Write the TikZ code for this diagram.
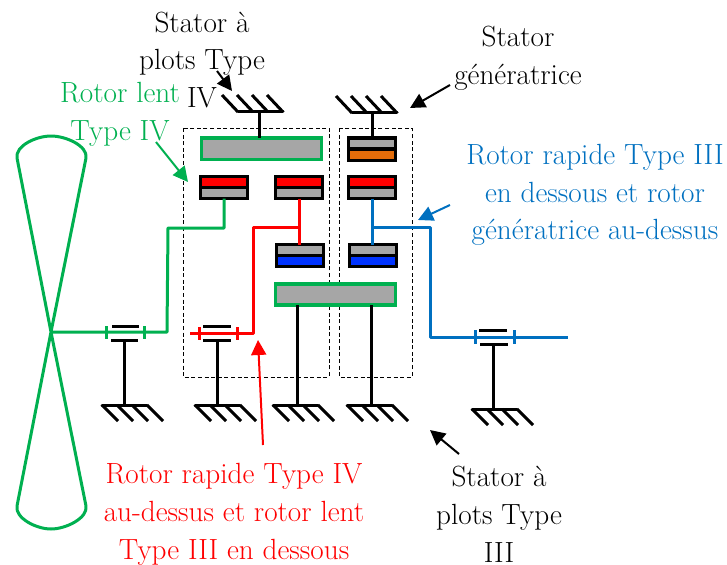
\documentclass[tikz,border=0pt]{standalone}
\usetikzlibrary{arrows.meta}
\definecolor{rotgreen}{HTML}{00B050}
\definecolor{rotblue}{HTML}{0070C0}
\definecolor{rotgrey}{HTML}{A6A6A6}
\definecolor{rotorange}{HTML}{E36C0A}
\definecolor{rotdeep}{HTML}{0033FF}
\newcommand{\gndup}[4]{% name, x, y, x of link : hatch goes up-left
  \coordinate (#1) at (#4,#3);
  \draw[line width=3pt,line cap=round,line join=round] (#2,#3) -- (#2+45,#3);
  \foreach \k in {0,15,30,45} \draw[line width=3pt] (#2+\k,#3) -- (#2+\k-16,#3-17);
}
\newcommand{\gnddown}[4]{% name, x, y, x of link : hatch goes down-right
  \coordinate (#1) at (#4,#3);
  \draw[line width=3pt,line cap=round,line join=round] (#2,#3) -- (#2+45,#3);
  \foreach \k in {0,15,30,45} \draw[line width=3pt] (#2+\k,#3) -- (#2+\k+16,#3+16);
}
\tikzset{
  x=1pt,y=-1pt,
  half/.style={draw=black,line width=3.2pt,minimum width=47pt,minimum height=11pt,inner sep=0pt,outer sep=0pt},
  carrier/.style={draw=rotgreen,fill=rotgrey,line width=3.6pt,inner sep=0pt,outer sep=0pt},
  shaft/.style={line width=3pt},
  colshaft/.style={line width=3pt,line join=round},
  house/.style={draw=black,dash pattern=on 4pt off 2.6pt,line width=0.9pt},
  bar/.style={line width=3pt},
  tick/.style={line width=3pt},
  call/.style={-{Triangle[length=15pt,width=15pt]},line width=2pt},
  lab/.style={font=\fontsize{29.2}{37.8}\selectfont,align=center,inner sep=0pt},
}
\begin{document}
\begin{tikzpicture}
\useasboundingbox (0,0) rectangle (727,564);
% housings
\draw[house] (183,128) rectangle (329,377);
\draw[house] (339,128) rectangle (412,377);
% grounds
\gndup{gA}{238}{112}{259}
\gndup{gB}{352}{113}{372}
\gnddown{gC}{102}{405}{124}
\gnddown{gD}{195}{405}{217}
\gnddown{gE}{273}{405}{297}
\gnddown{gF}{347}{405}{371}
\gnddown{gG}{472}{409}{493}
% blocks
\node[carrier,minimum width=120pt,minimum height=21.5pt] (top) at (261.5,148.8) {};
\node[half,fill=rotgrey] (ga) at (372,143.5) {};
\node[half,fill=rotorange] (gb) at (372,155) {};
\node[half,fill=red] (la) at (224,182) {};
\node[half,fill=rotgrey] (lb) at (224,193) {};
\node[half,fill=red] (ma) at (299,182) {};
\node[half,fill=rotgrey] (mb) at (299,193) {};
\node[half,fill=red] (ra) at (372,182) {};
\node[half,fill=rotgrey] (rb) at (372,193) {};
\node[half,fill=rotgrey] (mc) at (300,250) {};
\node[half,fill=rotdeep] (md) at (300,261) {};
\node[half,fill=rotgrey] (rc) at (373,250) {};
\node[half,fill=rotdeep] (rd) at (373,261) {};
\node[carrier,minimum width=120pt,minimum height=21pt] (low) at (335.5,294.5) {};
% ground links
\draw[shaft] (gA) -- (gA|-top.north);
\draw[shaft] (gB) -- (gB|-ga.north);
\draw[shaft] (gE) -- (gE|-low.south);
\draw[shaft] (gF) -- (gF|-low.south);
% propeller
\coordinate (hub) at (51,332);
\draw[rotgreen,line width=3pt,line join=round]
  (hub) -- (86,158) .. controls (88,146) and (66,136) .. (51,136)
  .. controls (36,136) and (15,146) .. (17,158) -- (hub)
  -- (86,506) .. controls (88,518) and (66,529) .. (51,529)
  .. controls (36,529) and (15,518) .. (17,506) -- cycle;
% green shaft
\coordinate (gj1) at (168,228);
\draw[rotgreen,colshaft] (hub) -- (167,332) -- (gj1) -- (lb.south|-gj1) -- (lb.south);
\draw[rotgreen,tick] (106,326) -- (106,339);
\draw[rotgreen,tick] (144,326) -- (144,339);
\draw[bar] (112,326) -- (139,326);
\draw[bar] (111,340) -- (138,340);
\coordinate (gb1) at (124,340);
\draw[shaft] (gC|-gb1) -- (gC);
% red shaft
\coordinate (rj1) at (253,333);
\coordinate (rj2) at (253,227);
\draw[red,colshaft] (190,333) -- (rj1) -- (rj2) -- (mb.south|-rj2);
\draw[red,colshaft] (mb.south) -- (mb.south|-mc.north);
\draw[red,tick] (199,327) -- (199,340);
\draw[red,tick] (237,327) -- (237,340);
\draw[bar] (203,326) -- (231,326);
\draw[bar] (203,340) -- (231,340);
\coordinate (rb1) at (217,340);
\draw[shaft] (gD|-rb1) -- (gD);
% blue shaft
\coordinate (bj1) at (430,227);
\coordinate (bj2) at (430,337);
\coordinate (bend) at (568,337);
\draw[rotblue,colshaft] (rb.south) -- (rb.south|-rc.north);
\draw[rotblue,colshaft] (rb.south|-bj1) -- (bj1) -- (bj2) -- (bend);
\draw[rotblue,tick] (475,330) -- (475,344);
\draw[rotblue,tick] (514,330) -- (514,344);
\draw[bar] (479,330) -- (507,330);
\draw[bar] (480,344) -- (508,344);
\coordinate (bb1) at (493,344);
\draw[shaft] (gG|-bb1) -- (gG);
% labels
\node[lab] (t1) at (202,60) {Stator à\\plots Type\\IV};
\node[lab] (t2) at (518,58) {Stator\\génératrice};
\node[lab,text=rotgreen] (t3) at (120,114) {Rotor lent\\Type IV};
\node[lab,text=rotblue] (t4) at (595,195) {Rotor rapide Type III\\en dessous et rotor\\génératrice au-dessus};
\node[lab,text=red] (t5) at (234,514.5) {Rotor rapide Type IV\\au-dessus et rotor lent\\Type III en dessous};
\node[lab] (t6) at (499,514.5) {Stator à\\plots Type\\III};
% callouts
\coordinate (a1s) at (217,71); \coordinate (a1e) at (232,91);
\coordinate (a2s) at (450,85); \coordinate (a2e) at (410,108);
\coordinate (a3s) at (156,142); \coordinate (a3e) at (188,182);
\coordinate (a4s) at (450,205); \coordinate (a4e) at (418,220);
\coordinate (a5s) at (263,445); \coordinate (a5e) at (258,340);
\coordinate (a6s) at (459,454); \coordinate (a6e) at (430,430);
\draw[call] (a1s) -- (a1e);
\draw[call] (a2s) -- (a2e);
\draw[call,rotgreen] (a3s) -- (a3e);
\draw[call,rotblue] (a4s) -- (a4e);
\draw[call,red] (a5s) -- (a5e);
\draw[call] (a6s) -- (a6e);
\end{tikzpicture}
\end{document}
